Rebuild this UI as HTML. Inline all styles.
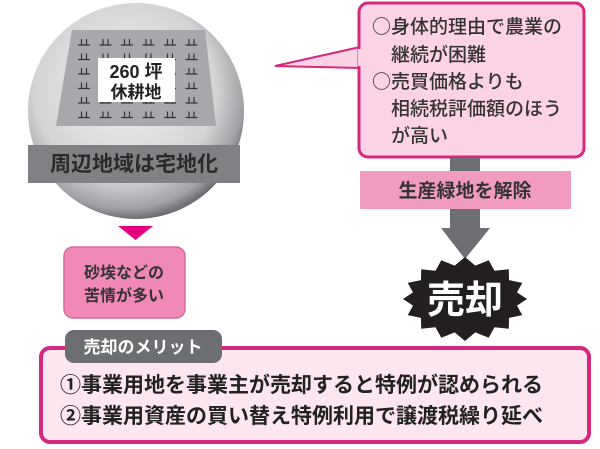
<!DOCTYPE html>
<html><head><meta charset="utf-8"><style>
html,body{margin:0;padding:0;background:#fff}
svg{display:block}
text{font-family:"Liberation Sans","Noto Sans CJK JP",sans-serif;font-weight:bold}
.j{font-family:"Noto Sans CJK JP",sans-serif}
</style></head><body>
<svg width="600" height="449" viewBox="0 0 600 449" xmlns="http://www.w3.org/2000/svg">
<defs>
<radialGradient id="cg" cx="0.45" cy="0.4" r="0.6">
<stop offset="0" stop-color="#f0f0f1"/><stop offset="0.7" stop-color="#d3d4d6"/><stop offset="0.92" stop-color="#a0a1a4"/><stop offset="1" stop-color="#6f7073"/>
</radialGradient>
<pattern id="gp" x="77" y="36" width="21.5" height="14.5" patternUnits="userSpaceOnUse">
<path d="M1 9h12M4.5 3v6M9.5 3v6" stroke="#333" stroke-width="1.2" fill="none"/>
</pattern>
</defs>
<circle cx="136" cy="111" r="108" fill="url(#cg)"/>
<polygon points="72,30 205,30 216,126 56,126" fill="#a7a8ab"/>
<rect x="77" y="36" width="129" height="87" fill="url(#gp)"/>
<rect x="98" y="58" width="77" height="44" fill="#fff"/>
<text x="136" y="78" font-size="18" text-anchor="middle" fill="#222">260 坪</text>
<text x="136" y="98" font-size="17" text-anchor="middle" fill="#222">休耕地</text>
<rect x="28" y="145" width="212" height="38" fill="#808184"/>
<text x="134" y="171" font-size="21" text-anchor="middle" fill="#2a2a2a">周辺地域は宅地化</text>
<polygon points="118,226 153,226 135.5,240" fill="#e5007f"/>
<rect x="64" y="247" width="121" height="71" rx="9" fill="#f088b8" stroke="#d76a9c" stroke-width="1.5"/>
<text x="124" y="278" font-size="16" text-anchor="middle" fill="#333">砂埃などの</text>
<text x="124" y="301" font-size="16" text-anchor="middle" fill="#333">苦情が多い</text>
<polygon points="275,66 360,47 360,68" fill="#fbd3e5" stroke="#d6287f" stroke-width="2"/>
<rect x="359" y="3" width="225" height="154" rx="9" fill="#fbd3e5" stroke="#d6287f" stroke-width="3"/>
<rect x="358" y="49" width="6" height="17" fill="#fbd3e5"/>
<g font-size="19" fill="#333" class="j">
<text x="372" y="33" class="j" style="font-weight:500">○身体的理由で農業の</text>
<text x="391" y="61" class="j" style="font-weight:500">継続が困難</text>
<text x="372" y="88" class="j" style="font-weight:500">○売買価格よりも</text>
<text x="391" y="115" class="j" style="font-weight:500">相続税評価額のほう</text>
<text x="391" y="142" class="j" style="font-weight:500">が高い</text>
</g>
<rect x="450" y="158" width="30" height="72" fill="#6d6e71"/>
<polygon points="441,228 490,228 465,259" fill="#6d6e71"/>
<rect x="360" y="171" width="211" height="38" fill="#f29bc1"/>
<text x="465" y="197" font-size="19" text-anchor="middle" fill="#333">生産緑地を解除</text>
<polygon fill="#231f20" points="527,299 517,305.6 522.3,315.1 509,317.9 508.8,328.7 494.5,327.3 488.7,337.8 475.3,332.4 465,341 454.7,332.4 441.3,337.8 435.5,327.3 421.2,328.7 421,317.9 407.7,315.1 413,305.6 403,299 413,292.4 407.7,282.9 421,280.1 421.2,269.3 435.5,270.7 441.3,260.2 454.7,265.6 465,257 475.3,265.6 488.7,260.2 494.5,270.7 508.8,269.3 509,280.1 522.3,282.9 517,292.4"/>
<text x="465" y="313" font-size="38" text-anchor="middle" fill="#fff">売却</text>
<rect x="41" y="348" width="548" height="94" rx="9" fill="#fde6f0" stroke="#d6287f" stroke-width="4"/>
<rect x="65" y="330" width="157" height="33" rx="9" fill="#6d6e71"/>
<text x="143" y="353" font-size="17" text-anchor="middle" fill="#fff">売却のメリット</text>
<text x="60" y="392" font-size="21" fill="#222">①事業用地を事業主が売却すると特例が認められる</text>
<text x="60" y="423" font-size="21" fill="#222">②事業用資産の買い替え特例利用で譲渡税繰り延べ</text>
</svg>
</body></html>
